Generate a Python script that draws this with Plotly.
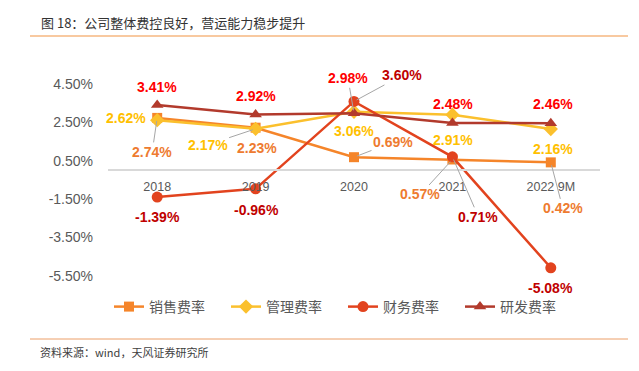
import plotly.graph_objects as go

categories = ["2018", "2019", "2020", "2021", "2022 9M"]
sales_rate = [2.74, 2.23, 0.69, 0.57, 0.42]      # 销售费率
admin_rate = [2.62, 2.17, 3.06, 2.91, 2.16]      # 管理费率
finance_rate = [-1.39, -0.96, 3.60, 0.71, -5.08]  # 财务费率
rd_rate = [3.41, 2.92, 2.98, 2.48, 2.46]         # 研发费率
y_ticks = [4.5, 2.5, 0.5, -1.5, -3.5, -5.5]
y_tick_text = ["4.50%", "2.50%", "0.50%", "-1.50%", "-3.50%", "-5.50%"]

series_names = ["销售费率", "管理费率", "财务费率", "研发费率"]
series_values = [sales_rate, admin_rate, finance_rate, rd_rate]
line_colors = ["#F5852A", "#FBC02D", "#E2431E", "#B23A2C"]
label_colors = ["#EE7B30", "#FFC000", "#C00000", "#FF0000"]
symbols = ["square", "diamond", "circle", "triangle-up"]
sizes = [10, 11, 11, 11]

# label offsets (dx, dy px) and whether a leader line is drawn
label_pos = [
    [(-5, 34, True), (1, 20, False), (39, -15, True), (-32, 35, True), (12, 46, True)],
    [(-31, -2, False), (-48, 16, True), (0, 19, False), (1, 25, False), (2, 20, False)],
    [(0, 20, False), (1, 21, False), (48, -26, True), (26, 60, True), (0, 20, False)],
    [(0, -18, False), (0, -18, False), (-6, -35, True), (1, -19, False), (2, -19, False)],
]

YMIN, YMAX = -6.5, 5.5
L, R, T, B = 108, 39, 65, 76
W, H = 639, 371
PW, PH = W - L - R, H - T - B

def px_x(x):
    return (x - L) / PW

def px_y(y):
    return (H - B - y) / PH

LAT = "Liberation Sans, Arial, Noto Sans CJK SC, sans-serif"
CJK = "Noto Sans CJK SC, Liberation Sans, sans-serif"

fig = go.Figure()
for name, vals, lc, sym, sz in zip(series_names, series_values, line_colors, symbols, sizes):
    fig.add_trace(go.Scatter(
        x=categories, y=vals, name=name, mode="lines+markers",
        line=dict(color=lc, width=2.5),
        marker=dict(symbol=sym, size=sz, color=lc),
    ))

annotations = []
for vals, col, poss in zip(series_values, label_colors, label_pos):
    for i, (v, (dx, dy, leader)) in enumerate(zip(vals, poss)):
        txt = f"{v:.2f}%"
        font = dict(family=LAT, size=14, color=col, weight="bold")
        if leader:
            annotations.append(dict(
                x=i, y=v, xref="x", yref="y", text=txt, showarrow=True,
                ax=dx, ay=dy, arrowhead=0, arrowwidth=1, arrowcolor="#A6A6A6",
                standoff=3, font=font,
            ))
        else:
            annotations.append(dict(
                x=i, y=v, xref="x", yref="y", text=txt, showarrow=False,
                xshift=dx, yshift=-dy, font=font,
            ))

annotations.append(dict(
    x=px_x(39), y=px_y(23), xref="paper", yref="paper", xanchor="left", yanchor="middle",
    text="图 18：公司整体费控良好，营运能力稳步提升", showarrow=False,
    font=dict(family=CJK, size=13, color="#333333"),
))
annotations.append(dict(
    x=px_x(38), y=px_y(352), xref="paper", yref="paper", xanchor="left", yanchor="middle",
    text="资料来源：wind，天风证券研究所", showarrow=False,
    font=dict(family=CJK, size=11, color="#404040"),
))

shapes = [
    dict(type="line", xref="paper", yref="paper", x0=px_x(30), x1=px_x(628),
         y0=px_y(36), y1=px_y(36), line=dict(color="#F8C9A0", width=2)),
    dict(type="line", xref="paper", yref="paper", x0=px_x(30), x1=px_x(628),
         y0=px_y(339), y1=px_y(339), line=dict(color="#EC9F68", width=1)),
]

fig.update_layout(
    width=W, height=H, margin=dict(l=L, r=R, t=T, b=B),
    paper_bgcolor="white", plot_bgcolor="white",
    showlegend=True,
    legend=dict(orientation="h", x=px_x(109), y=px_y(307), xanchor="left", yanchor="middle",
                font=dict(family=CJK, size=14, color="#595959"),
                itemwidth=30, entrywidth=72, bgcolor="rgba(0,0,0,0)"),
    xaxis=dict(type="category", range=[-0.5, 4.5], anchor="free",
               position=(0 - YMIN) / (YMAX - YMIN),
               showline=True, linecolor="#D9D9D9", linewidth=1.5, showgrid=False,
               zeroline=False, ticks="", ticklabelstandoff=5,
               tickfont=dict(family=LAT, size=12.5, color="#595959")),
    yaxis=dict(range=[YMIN, YMAX], tickvals=y_ticks, ticktext=y_tick_text,
               showgrid=False, zeroline=False, showline=False, ticks="",
               ticklabelstandoff=14,
               tickfont=dict(family=LAT, size=14, color="#595959")),
    annotations=annotations, shapes=shapes,
)

fig.write_html("out.html", config={"displayModeBar": False},
               post_script="document.body.style.margin='0';")
